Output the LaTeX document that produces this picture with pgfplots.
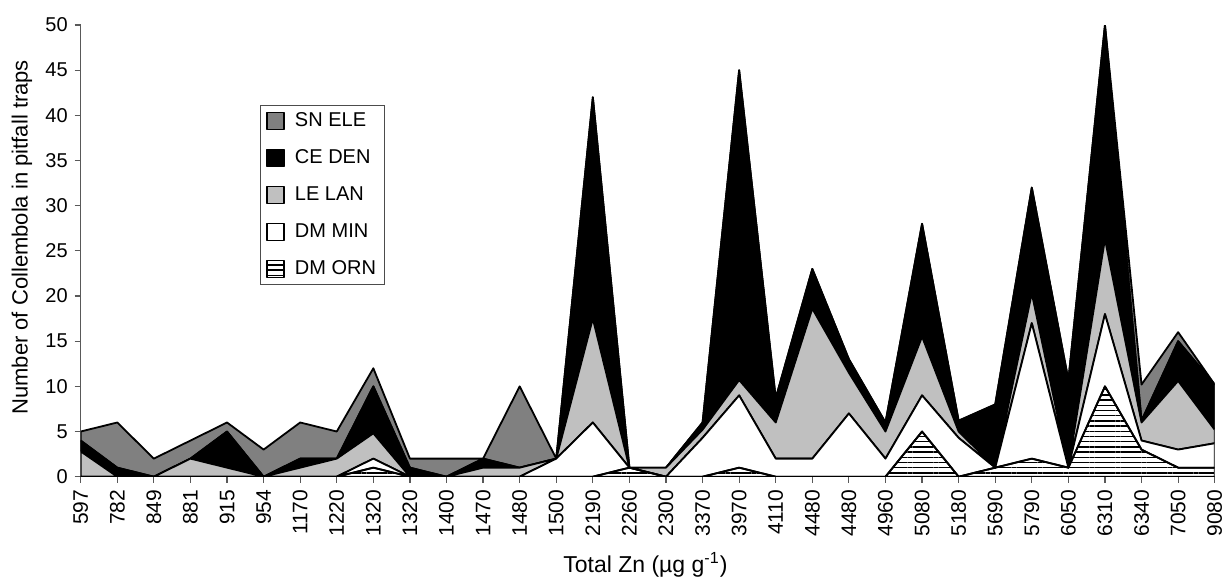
\documentclass[border=0pt]{standalone}
\usepackage{pgfplots}
\pgfplotsset{compat=1.18}
\usepackage{pgfplotstable}
\usepackage{fontspec}
\setmainfont{Liberation Sans}
\usetikzlibrary{patterns.meta}

\definecolor{sngray}{HTML}{808080}
\definecolor{legray}{HTML}{C0C0C0}

\pgfplotstableread{
x orn min le ce sn
0 0 0 2.8 1.2 1
1 0 0 0 1 5
2 0 0 0 0 2
3 0 0 2 0 2
4 0 0 1 4 1
5 0 0 0 0 3
6 0 0 1 1 4
7 0 0 2 0 3
8 1 1 2.8 5.2 2
9 0 0 0 1 1
10 0 0 0 0 2
11 0 0 1 1 0
12 0 0 1 0 9
13 0 2 0 0 0
14 0 6 11.5 24.5 0
15 1 0 0 0 0
16 0 0 1 0 0
17 0 4.3 0.9 0.8 0
18 1 8 1.7 34.3 0
19 0 2 4 2.7 0
20 0 2 16.6 4.4 0
21 0 7 4.5 1.5 0
22 0 2 3 1 0
23 5 4 6.5 12.5 0
24 0 4.3 0.7 1.2 0
25 1 0 0 7 0
26 2 15 3.3 11.7 0
27 1 0 0 9.7 0
28 10 8 8.3 23.7 0
29 3 1 2 0.2 4
30 1 2 7.6 4.4 1
31 1 2.7 1.5 5 0
}\data

\begin{document}
\begin{tikzpicture}
\begin{axis}[
  name=ax,
  scale only axis,
  width=567pt, height=225.85pt,
  xmin=0, xmax=31, ymin=0, ymax=50,
  stack plots=y,
  axis lines*=left,
  axis line style={draw=black!65, line width=0.6pt},
  tick style={draw=black!65, line width=0.6pt},
  tick align=outside,
  major tick length=3pt,
  xtick={0,...,31},
  xticklabels={597,782,849,881,915,954,1170,1220,1320,1320,1400,1470,1480,1500,2190,2260,2300,3370,3970,4110,4480,4480,4960,5080,5180,5690,5790,6050,6310,6340,7050,9080},
  xticklabel style={rotate=90, anchor=east, font=\fontsize{10.5}{12}\selectfont},
  ytick={0,5,...,50},
  yticklabel style={font=\fontsize{10}{12}\selectfont},
  /pgf/number format/assume math mode=true,
  xlabel={Total Zn (µg g\textsuperscript{-1})},
  ylabel={Number of Collembola in pitfall traps},
  xlabel style={at={(axis description cs:0.498,-0.195)}, anchor=center, font=\fontsize{11.5}{13}\selectfont},
  ylabel style={at={(axis description cs:-0.0519,0.53)}, anchor=center, font=\fontsize{11}{13}\selectfont},
  reverse legend,
  legend cell align=left,
  legend style={at={(0.158,0.424)}, anchor=south west, draw=black!70, line width=0.5pt,
    font=\fontsize{10}{12}\selectfont, row sep=7pt, inner xsep=3pt, inner ysep=2pt,
    nodes={inner sep=1pt, text height=7.5pt, text depth=2pt}},
  legend image code/.code={\draw[#1, draw=black, line width=0.6pt] (0pt,-4.25pt) rectangle (8.5pt,4.25pt); \path[draw=none, fill=none] (13pt,0pt);},
  every axis plot/.append style={draw=black, line width=0.9pt, line join=round},
]
\addplot[pattern={Lines[angle=0,distance=2.6pt,line width=0.7pt]}, pattern color=black] table[x=x, y=orn] {\data} \closedcycle;
\addlegendentry{DM ORN}
\addplot[fill=white] table[x=x, y=min] {\data} \closedcycle;
\addlegendentry{DM MIN}
\addplot[fill=legray] table[x=x, y=le] {\data} \closedcycle;
\addlegendentry{LE LAN}
\addplot[fill=black] table[x=x, y=ce] {\data} \closedcycle;
\addlegendentry{CE DEN}
\addplot[fill=sngray] table[x=x, y=sn] {\data} \closedcycle;
\addlegendentry{SN ELE}
\end{axis}
\pgfresetboundingbox
\path (ax.south west) ++(-40.35pt,-50.15pt) rectangle ++(613pt,288.5pt);
\end{tikzpicture}
\end{document}
